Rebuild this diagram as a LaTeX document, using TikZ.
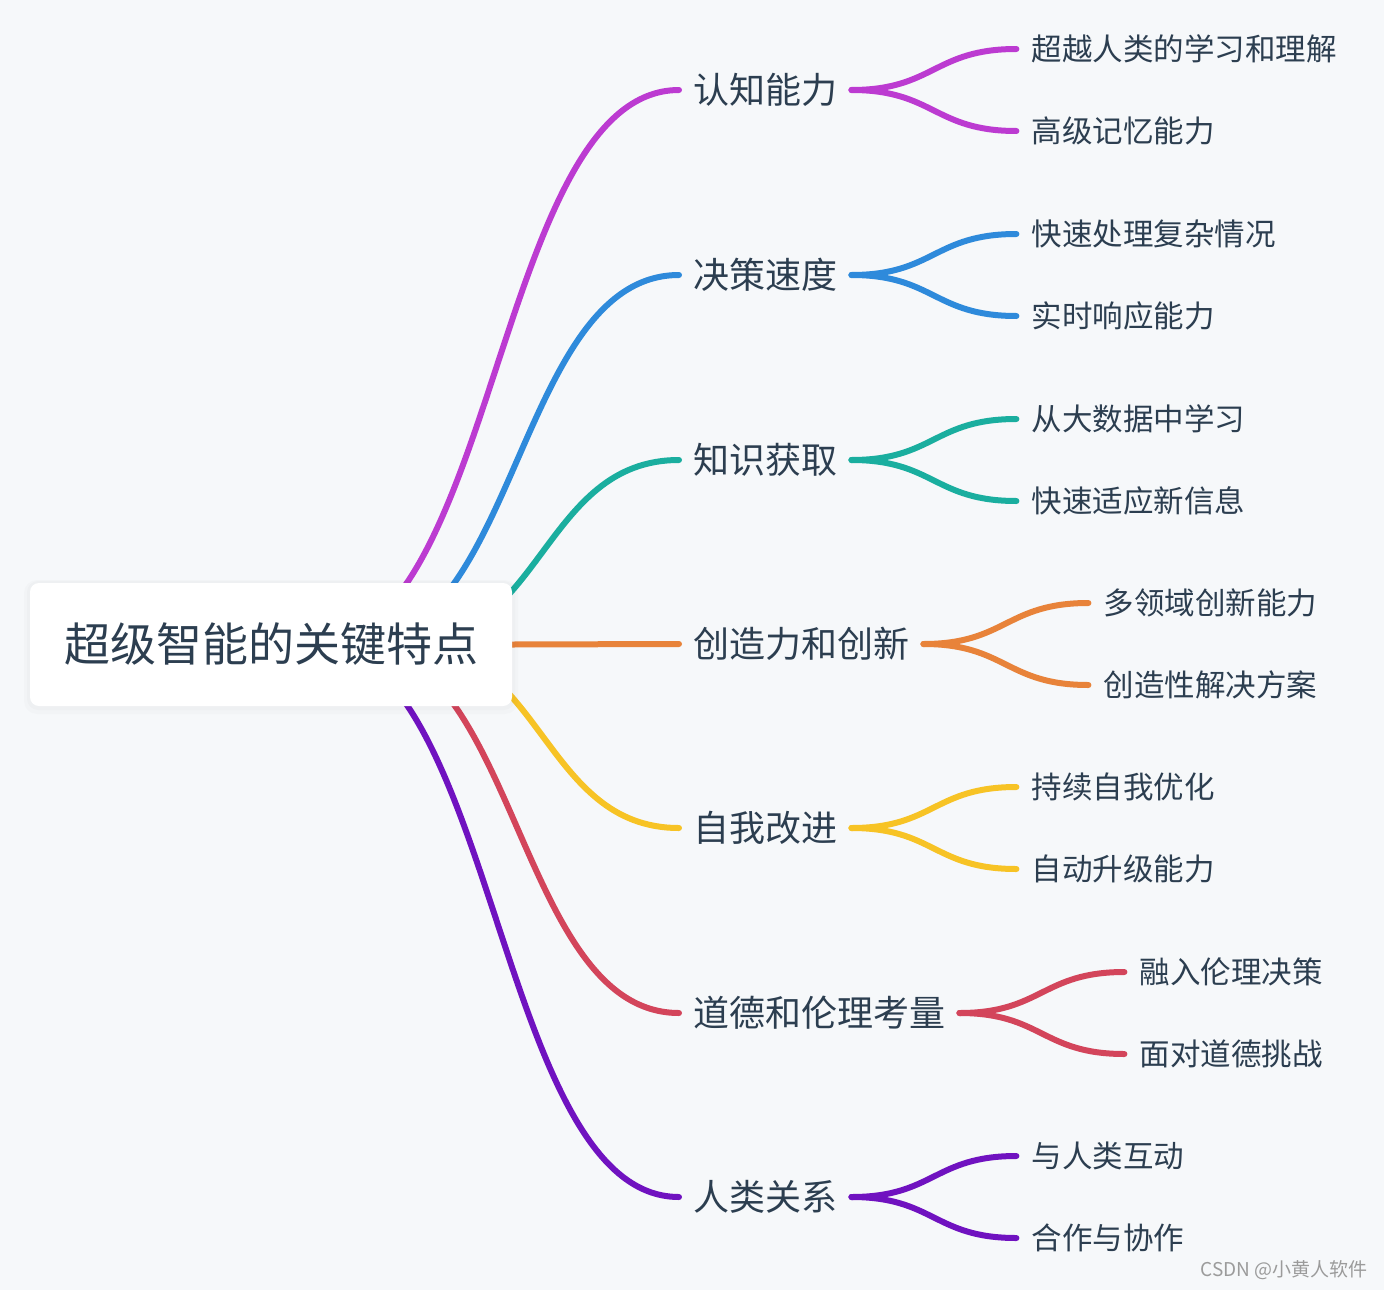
\documentclass[tikz,border=0pt]{standalone}
\usepackage{fontspec}
\newfontfamily\cjk{Noto Sans CJK SC}
\usetikzlibrary{calc}
\definecolor{bgc}{HTML}{F6F8FA}
\definecolor{txt}{HTML}{2C3E50}
\definecolor{cA}{HTML}{BC3BD1}
\definecolor{cB}{HTML}{2E8ADB}
\definecolor{cC}{HTML}{1AAE9F}
\definecolor{cD}{HTML}{E8833A}
\definecolor{cE}{HTML}{F7C325}
\definecolor{cF}{HTML}{D3455B}
\definecolor{cG}{HTML}{7012C0}
\definecolor{wm}{HTML}{9B9B9B}
\pgfdeclarelayer{bglayer}
\pgfdeclarelayer{linklayer}
\pgfsetlayers{bglayer,linklayer,main}
\newcommand\mmlink[3]{\draw[link,#1] let \p1=(#2),\p2=(#3) in (\p1) .. controls ({(\x1+\x2)/2},\y1) and ({(\x1+\x2)/2},\y2) .. (\p2);}
\tikzset{
  link/.style={line width=6pt,line cap=round},
  rootbox/.style={fill=white,rounded corners=9pt,minimum width=482pt,minimum height=123pt,inner sep=0pt,text=txt,font=\cjk\fontsize{46pt}{50pt}\selectfont},
  mainnode/.style={anchor=west,inner xsep=14pt,inner ysep=0pt,text=txt,font=\cjk\fontsize{36pt}{40pt}\selectfont},
  childnode/.style={anchor=west,inner xsep=15pt,inner ysep=0pt,text=txt,font=\cjk\fontsize{30.5pt}{34pt}\selectfont},
  wmark/.style={anchor=east,inner sep=0pt,text=wm,font=\cjk\fontsize{19pt}{21pt}\selectfont}
}
\begin{document}
\begin{tikzpicture}[x=1pt,y=-1pt]
\useasboundingbox (0,0) rectangle (1384,1290);
\begin{pgfonlayer}{bglayer}
\fill[bgc] (0,0) rectangle (1384,1290);
\end{pgfonlayer}
% root
\fill[black,opacity=0.015,rounded corners=13pt] (24,580) rectangle (518,714);
\fill[black,opacity=0.015,rounded corners=11pt] (27,581) rectangle (515,710);
\node[rootbox] (root) at (271,644.5) {超级智能的关键特点};
% start points behind root box
\coordinate (s1) at (314,644);
\coordinate (s2) at (356,644);
\coordinate (s3) at (406,644);
\coordinate (s5) at (406,644);
\coordinate (s6) at (356,644);
\coordinate (s7) at (314,644);
% main nodes
\node[mainnode] (m1) at (679,90) {认知能力};
\node[mainnode] (m2) at (679,275) {决策速度};
\node[mainnode] (m3) at (679,460) {知识获取};
\node[mainnode] (m4) at (679,644) {创造力和创新};
\node[mainnode] (m5) at (679,828) {自我改进};
\node[mainnode] (m6) at (679,1013) {道德和伦理考量};
\node[mainnode] (m7) at (679,1197) {人类关系};
% children
\node[childnode] (c11) at ($(m1.east)+(165,-41)$) {超越人类的学习和理解};
\node[childnode] (c12) at ($(m1.east)+(165,41)$) {高级记忆能力};
\node[childnode] (c21) at ($(m2.east)+(165,-41)$) {快速处理复杂情况};
\node[childnode] (c22) at ($(m2.east)+(165,41)$) {实时响应能力};
\node[childnode] (c31) at ($(m3.east)+(165,-41)$) {从大数据中学习};
\node[childnode] (c32) at ($(m3.east)+(165,41)$) {快速适应新信息};
\node[childnode] (c41) at ($(m4.east)+(165,-41)$) {多领域创新能力};
\node[childnode] (c42) at ($(m4.east)+(165,41)$) {创造性解决方案};
\node[childnode] (c51) at ($(m5.east)+(165,-41)$) {持续自我优化};
\node[childnode] (c52) at ($(m5.east)+(165,41)$) {自动升级能力};
\node[childnode] (c61) at ($(m6.east)+(165,-41)$) {融入伦理决策};
\node[childnode] (c62) at ($(m6.east)+(165,41)$) {面对道德挑战};
\node[childnode] (c71) at ($(m7.east)+(165,-41)$) {与人类互动};
\node[childnode] (c72) at ($(m7.east)+(165,41)$) {合作与协作};
% watermark
\node[wmark] (wmk) at (1368,1270) {CSDN @小黄人软件};
% links
\begin{pgfonlayer}{linklayer}
\mmlink{cA}{s1}{m1.west}
\mmlink{cB}{s2}{m2.west}
\mmlink{cC}{s3}{m3.west}
\draw[link,cD] (root.east) -- (m4.west);
\mmlink{cE}{s5}{m5.west}
\mmlink{cF}{s6}{m6.west}
\mmlink{cG}{s7}{m7.west}
\mmlink{cA}{m1.east}{c11.west}
\mmlink{cA}{m1.east}{c12.west}
\mmlink{cB}{m2.east}{c21.west}
\mmlink{cB}{m2.east}{c22.west}
\mmlink{cC}{m3.east}{c31.west}
\mmlink{cC}{m3.east}{c32.west}
\mmlink{cD}{m4.east}{c41.west}
\mmlink{cD}{m4.east}{c42.west}
\mmlink{cE}{m5.east}{c51.west}
\mmlink{cE}{m5.east}{c52.west}
\mmlink{cF}{m6.east}{c61.west}
\mmlink{cF}{m6.east}{c62.west}
\mmlink{cG}{m7.east}{c71.west}
\mmlink{cG}{m7.east}{c72.west}
\end{pgfonlayer}
\end{tikzpicture}
\end{document}
